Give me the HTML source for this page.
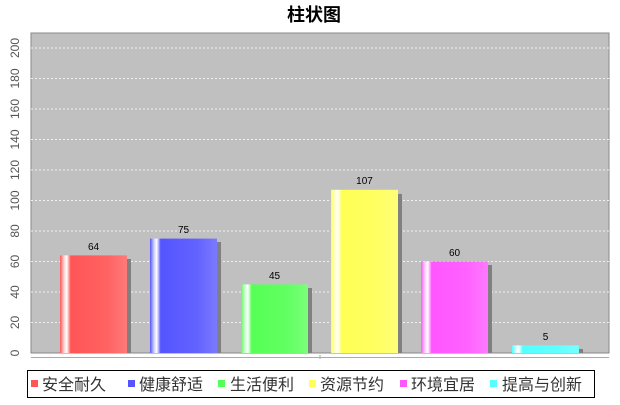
<!DOCTYPE html>
<html><head><meta charset="utf-8"><style>
body{margin:0;background:#fff;width:620px;height:400px;overflow:hidden;font-family:"Liberation Sans","Noto Sans CJK SC",sans-serif}
</style></head><body>
<svg width="620" height="400" xmlns="http://www.w3.org/2000/svg" font-family="Liberation Sans, Noto Sans CJK SC, sans-serif">
<defs>
<linearGradient id="gr" x1="0" x2="1"><stop offset="0" stop-color="#ff5555"/><stop offset="0.06" stop-color="#ffd0d0"/><stop offset="0.1" stop-color="#fff"/><stop offset="0.16" stop-color="#ff5555"/><stop offset="0.7" stop-color="#ff6262"/><stop offset="1" stop-color="#ff7a7a"/></linearGradient>
<linearGradient id="gb" x1="0" x2="1"><stop offset="0" stop-color="#5555ff"/><stop offset="0.06" stop-color="#d0d0ff"/><stop offset="0.1" stop-color="#fff"/><stop offset="0.16" stop-color="#5555ff"/><stop offset="0.7" stop-color="#6262ff"/><stop offset="1" stop-color="#7a7aff"/></linearGradient>
<linearGradient id="gg" x1="0" x2="1"><stop offset="0" stop-color="#55ff55"/><stop offset="0.06" stop-color="#d0ffd0"/><stop offset="0.1" stop-color="#fff"/><stop offset="0.16" stop-color="#55ff55"/><stop offset="0.7" stop-color="#62ff62"/><stop offset="1" stop-color="#7aff7a"/></linearGradient>
<linearGradient id="gy" x1="0" x2="1"><stop offset="0" stop-color="#ffff55"/><stop offset="0.06" stop-color="#ffffd0"/><stop offset="0.1" stop-color="#fff"/><stop offset="0.16" stop-color="#ffff55"/><stop offset="0.7" stop-color="#ffff62"/><stop offset="1" stop-color="#ffff7a"/></linearGradient>
<linearGradient id="gm" x1="0" x2="1"><stop offset="0" stop-color="#ff55ff"/><stop offset="0.06" stop-color="#ffd0ff"/><stop offset="0.1" stop-color="#fff"/><stop offset="0.16" stop-color="#ff55ff"/><stop offset="0.7" stop-color="#ff62ff"/><stop offset="1" stop-color="#ff7aff"/></linearGradient>
<linearGradient id="gc" x1="0" x2="1"><stop offset="0" stop-color="#55ffff"/><stop offset="0.06" stop-color="#d0ffff"/><stop offset="0.1" stop-color="#fff"/><stop offset="0.16" stop-color="#55ffff"/><stop offset="0.7" stop-color="#62ffff"/><stop offset="1" stop-color="#7affff"/></linearGradient>
</defs>
<text x="314" y="21" text-anchor="middle" font-size="18" font-weight="bold">柱状图</text>
<rect x="31" y="33" width="578" height="320" fill="#c0c0c0" stroke="#888" stroke-width="1"/>
<g stroke="#fff" stroke-dasharray="2,2" stroke-width="1" opacity="0.8">
<line x1="31" x2="609" y1="322.5" y2="322.5"/><line x1="31" x2="609" y1="292" y2="292"/><line x1="31" x2="609" y1="261.5" y2="261.5"/><line x1="31" x2="609" y1="231" y2="231"/><line x1="31" x2="609" y1="200.5" y2="200.5"/><line x1="31" x2="609" y1="170" y2="170"/><line x1="31" x2="609" y1="139.5" y2="139.5"/><line x1="31" x2="609" y1="109" y2="109"/><line x1="31" x2="609" y1="78.5" y2="78.5"/><line x1="31" x2="609" y1="48" y2="48"/>
</g>
<g fill="#808080">
<rect x="64" y="259" width="67" height="94"/><rect x="154" y="242" width="67" height="111"/><rect x="245" y="288" width="67" height="65"/><rect x="335" y="194" width="67" height="159"/><rect x="425" y="265" width="67" height="88"/><rect x="516" y="349" width="67" height="4"/>
</g>
<rect x="60" y="255.4" width="67" height="97.6" fill="url(#gr)"/>
<rect x="150" y="238.6" width="67" height="114.4" fill="url(#gb)"/>
<rect x="241" y="284.4" width="67" height="68.6" fill="url(#gg)"/>
<rect x="331" y="189.8" width="67" height="163.2" fill="url(#gy)"/>
<rect x="421" y="261.5" width="67" height="91.5" fill="url(#gm)"/>
<rect x="512" y="345.4" width="67" height="7.6" fill="url(#gc)"/>
<g font-size="10" text-anchor="middle" fill="#000">
<text x="93.5" y="250">64</text><text x="183.5" y="233">75</text><text x="274.5" y="279">45</text><text x="364.5" y="184">107</text><text x="454.5" y="256">60</text><text x="545.5" y="340">5</text>
</g>
<line x1="31" x2="609" y1="357.5" y2="357.5" stroke="#aaa"/>
<line x1="320" x2="320" y1="355" y2="359" stroke="#aaa"/>
<g font-size="12" fill="#555" text-anchor="middle">
<text transform="translate(19,353) rotate(-90)">0</text>
<text transform="translate(19,322.5) rotate(-90)">20</text>
<text transform="translate(19,292) rotate(-90)">40</text>
<text transform="translate(19,261.5) rotate(-90)">60</text>
<text transform="translate(19,231) rotate(-90)">80</text>
<text transform="translate(19,200.5) rotate(-90)">100</text>
<text transform="translate(19,170) rotate(-90)">120</text>
<text transform="translate(19,139.5) rotate(-90)">140</text>
<text transform="translate(19,109) rotate(-90)">160</text>
<text transform="translate(19,78.5) rotate(-90)">180</text>
<text transform="translate(19,48) rotate(-90)">200</text>
</g>
<rect x="27.5" y="370.5" width="567" height="27" fill="#fff" stroke="#000"/>
<g font-size="16" fill="#333">
<rect x="31" y="380" width="7" height="7" fill="#ff5555"/><text x="42" y="390">安全耐久</text>
<rect x="128" y="380" width="7" height="7" fill="#5555ff"/><text x="139" y="390">健康舒适</text>
<rect x="218" y="380" width="7" height="7" fill="#55ff55"/><text x="230" y="390">生活便利</text>
<rect x="309" y="380" width="7" height="7" fill="#ffff55"/><text x="320" y="390">资源节约</text>
<rect x="400" y="380" width="7" height="7" fill="#ff55ff"/><text x="411" y="390">环境宜居</text>
<rect x="490" y="380" width="7" height="7" fill="#55ffff"/><text x="502" y="390">提高与创新</text>
</g>
</svg>
</body></html>
